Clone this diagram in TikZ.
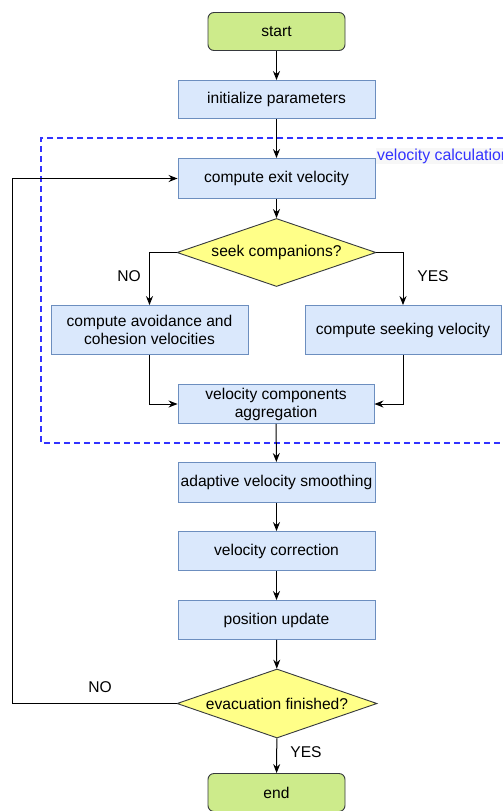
\documentclass[tikz,border=0pt]{standalone}
\usepackage{fontspec}
\setmainfont{Liberation Sans}
\usetikzlibrary{shapes.geometric,arrows.meta}
\definecolor{procfill}{HTML}{DAE8FC}
\definecolor{procdraw}{HTML}{6C8EBF}
\definecolor{termfill}{HTML}{CDEB8B}
\definecolor{darkline}{HTML}{36393D}
\definecolor{decfill}{HTML}{FFFF88}
\definecolor{groupblue}{HTML}{3333FF}
\tikzset{
  every node/.style={font=\fontsize{15.6}{18}\selectfont, text=black},
  procbox/.style={draw=procdraw, fill=procfill, line width=0.9pt, minimum width=197pt, minimum height=40pt, inner sep=0pt, align=center},
  termbox/.style={draw=darkline, fill=termfill, line width=0.9pt, rounded corners=6pt, minimum width=137pt, minimum height=38pt, inner sep=0pt},
  decbox/.style={draw=darkline, fill=decfill, line width=0.9pt, shape=diamond, shape aspect=3, inner sep=0pt},
  flow/.style={draw=black, line width=1pt, -{Stealth[length=9pt,width=7pt,inset=3pt]}},
  lbl/.style={inner sep=0pt}
}
\begin{document}
\begin{tikzpicture}[x=1pt,y=-1pt]
\useasboundingbox (0,0) rectangle (503,811);
\fill[white] (0,0) rectangle (503,811);
% group frame
\begin{scope}
\clip (0,0) rectangle (503,811);
\draw[groupblue, line width=1.8pt, dash pattern=on 6pt off 4pt] (503,138) -- (41,138) -- (41,443) -- (503,443);
\node[anchor=west, fill=gray!6, inner sep=1pt, text=groupblue, font=\fontsize{15.9}{18}\selectfont] (grouplabel) at (376,156) {velocity calculation};
\end{scope}
% nodes
\node[termbox] (start) at (276.5,31.5) {start};
\node[procbox, minimum height=38pt] (init) at (276.5,99.5) {initialize parameters};
\node[procbox] (exit) at (276.5,178.5) {compute exit velocity};
\node[decbox, minimum width=199pt, minimum height=68pt] (seek) at (276.5,252.5) {seek companions?};
\node[procbox, minimum height=49pt] (avoid) at (149.5,330) {compute avoidance and\\cohesion velocities};
\node[procbox, minimum width=196pt, minimum height=49pt] (seeking) at (403,330) {compute seeking velocity};
\node[procbox, minimum width=196pt, minimum height=39pt] (agg) at (276,404) {velocity components\\aggregation};
\node[procbox] (smooth) at (276.5,482.5) {adaptive velocity smoothing};
\node[procbox, minimum height=39pt] (corr) at (276.5,551) {velocity correction};
\node[procbox, minimum height=39pt] (pos) at (276.5,620) {position update};
\node[decbox, minimum width=200pt, minimum height=69pt] (evac) at (277,703.5) {evacuation finished?};
\node[termbox] (end) at (276.5,792.5) {end};
% labels
\node[lbl] (no1) at (129,276) {NO};
\node[lbl] (yes1) at (433,276) {YES};
\node[lbl] (no2) at (100,687.5) {NO};
\node[lbl] (yes2) at (306,752) {YES};
\coordinate (loop) at (12,703.5);
% connectors
\draw[flow] (start) -- (init);
\draw[flow] (init) -- (exit);
\draw[flow] (exit) -- (seek);
\draw[flow] (seek.west) -| (avoid.north);
\draw[flow] (seek.east) -| (seeking.north);
\draw[flow] (avoid.south) |- (agg.west);
\draw[flow] (seeking.south) |- (agg.east);
\draw[flow] (agg) -- (smooth);
\draw[flow] (smooth) -- (corr);
\draw[flow] (corr) -- (pos);
\draw[flow] (pos) -- (evac);
\draw[flow] (evac) -- (end);
\draw[flow] (evac.west) -- (loop) |- (exit.west);
\end{tikzpicture}
\end{document}
